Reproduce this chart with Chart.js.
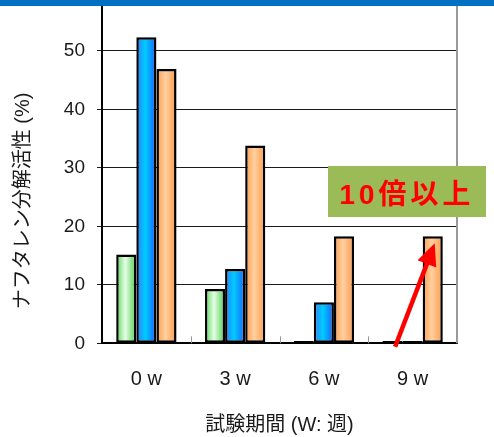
<!DOCTYPE html>
<html>
<head>
<meta charset="utf-8">
<script src="https://cdn.jsdelivr.net/npm/chart.js@4/dist/chart.umd.min.js"></script>
<style>
  body { margin: 0; width: 494px; height: 437px; overflow: hidden; background: #fff; position: relative; }
  #topBand { position: absolute; left: 0; top: 0; width: 494px; height: 6px; background: #0070C0; z-index: 2; }
  #chart { position: absolute; left: 0; top: -20px; }
  #note {
    position: absolute; left: 328px; top: 166px; width: 158px; height: 51px;
    background: #9BBB59; color: #ff0000; z-index: 2;
    display: flex; align-items: center; justify-content: center;
    font: bold 28px "Liberation Sans", "Noto Sans CJK JP", sans-serif; letter-spacing: 4px;
  }
</style>
</head>
<body>
<div id="topBand"></div>
<canvas id="chart" width="494" height="457"></canvas>
<div id="note">10倍以上</div>
<script>
// Datos
const weeks = ['0 w', '3 w', '6 w', '9 w'];
const seriesGreen = [15.2, 9.3, 0.4, 0.4];
const seriesBlue = [52.3, 12.7, 7.0, 0.4];
const seriesOrange = [46.9, 33.8, 18.3, 18.3];
const yTicks = [0, 10, 20, 30, 40, 50];

const FONT = '"Liberation Sans", "Noto Sans CJK JP", sans-serif';
const CAT_PCT = 0.68;

// degradado horizontal en cada barra
function barGradient(stops) {
    return (ctx) => {
        const chart = ctx.chart;
        const xs = chart.scales.x;
        if (!xs || ctx.dataIndex === undefined) return stops[1];
        const cw = xs.width / weeks.length;
        const bw = cw * CAT_PCT / 3;
        const cx = xs.getPixelForValue(ctx.dataIndex) + (ctx.datasetIndex - 1) * bw;
        if (!Number.isFinite(cx) || !Number.isFinite(bw) || bw <= 0) return stops[1];
        const g = chart.ctx.createLinearGradient(cx - bw / 2, 0, cx + bw / 2, 0);
        g.addColorStop(0, stops[0]);
        g.addColorStop(0.45, stops[1]);
        g.addColorStop(1, stops[2]);
        return g;
    };
}

// titulo del eje Y, flecha y borde derecho
const extras = {
    id: 'extras',
    afterDraw(chart) {
        const c = chart.ctx;
        const area = chart.chartArea;
        const xs = chart.scales.x, ys = chart.scales.y;
        c.save();
        // borde derecho gris
        c.strokeStyle = '#999';
        c.lineWidth = 2;
        c.beginPath();
        c.moveTo(area.right, 0);
        c.lineTo(area.right, area.bottom);
        c.stroke();

        // ticks de categoria
        c.lineWidth = 1;
        c.strokeStyle = '#999';
        for (let i = 0; i < weeks.length - 1; i++) {
            const bx = Math.round((xs.getPixelForValue(i) + xs.getPixelForValue(i + 1)) / 2) + 0.5;
            c.beginPath();
            c.moveTo(bx, area.bottom);
            c.lineTo(bx, area.bottom - 7);
            c.stroke();
        }

        // flecha roja
        const cw = xs.width / weeks.length;
        const bw = cw * CAT_PCT / 3;
        const hx = xs.getPixelForValue(3) + bw + 2;
        const hy = ys.getPixelForValue(17.1);
        const tx = xs.getPixelForValue(3) - 17.5;
        const ty = ys.getPixelForValue(0) + 3.5;
        const ang = Math.atan2(hy - ty, hx - tx);
        const len = 22, half = 10;
        c.strokeStyle = '#ff0000';
        c.fillStyle = '#ff0000';
        c.lineWidth = 4.5;
        c.beginPath();
        c.moveTo(tx, ty);
        c.lineTo(hx - Math.cos(ang) * (len - 4), hy - Math.sin(ang) * (len - 4));
        c.stroke();
        const bxp = hx - Math.cos(ang) * len, byp = hy - Math.sin(ang) * len;
        c.beginPath();
        c.moveTo(hx, hy);
        c.lineTo(bxp + Math.sin(ang) * half, byp - Math.cos(ang) * half);
        c.lineTo(bxp - Math.sin(ang) * half, byp + Math.cos(ang) * half);
        c.closePath();
        c.fill();

        // titulo eje Y
        c.fillStyle = '#1a1a1a';
        c.font = '20px ' + FONT;
        c.textAlign = 'center';
        c.textBaseline = 'middle';
        c.translate(23, 221);
        c.rotate(-Math.PI / 2);
        c.fillText('ナフタレン分解活性 (%)', 0, 0);
        c.restore();
    }
};

const ds = (label, data, stops) => ({
    label: label,
    data: data,
    backgroundColor: barGradient(stops),
    borderColor: '#000',
    borderWidth: 2.5,
    borderSkipped: false,
    categoryPercentage: CAT_PCT,
    barPercentage: 1.0,
});

new Chart(document.getElementById('chart').getContext('2d'), {
    type: 'bar',
    data: {
        labels: weeks,
        datasets: [
            ds('系列1', seriesGreen, ['#55d855', '#e6ffe6', '#4ccc4c']),
            ds('系列2', seriesBlue, ['#2a7dff', '#00ccff', '#1a5cff']),
            ds('系列3', seriesOrange, ['#ff9a4a', '#ffd0a0', '#ff9a48']),
        ],
    },
    options: {
        responsive: false,
        animation: false,
        layout: { padding: { top: 12.3, right: 37, left: 0, bottom: 0 } },
        plugins: { legend: { display: false }, tooltip: { enabled: false } },
        scales: {
            x: {
                grid: { display: false },
                border: { color: '#000', width: 2 },
                ticks: { color: '#1a1a1a', font: { size: 20, family: FONT }, padding: 16 },
                title: { display: true, text: '試験期間 (W: 週)', color: '#1a1a1a',
                         font: { size: 20, family: FONT }, padding: { top: 0, bottom: 0 } },
                afterFit: (s) => { s.height = 93.7; s.paddingLeft = 0; s.paddingRight = 0; },
            },
            y: {
                min: 0,
                max: 60,
                afterBuildTicks: (s) => { s.ticks = yTicks.map(v => ({ value: v })); },
                grid: { color: '#1a1a1a', lineWidth: 1, tickLength: 5, drawTicks: true },
                border: { color: '#000', width: 2 },
                ticks: { color: '#1a1a1a', font: { size: 19, family: FONT }, padding: 12 },
                afterFit: (s) => { s.width = 102; s.paddingTop = 0; s.paddingBottom = 0; },
            },
        },
    },
    plugins: [extras],
});
</script>
</body>
</html>
